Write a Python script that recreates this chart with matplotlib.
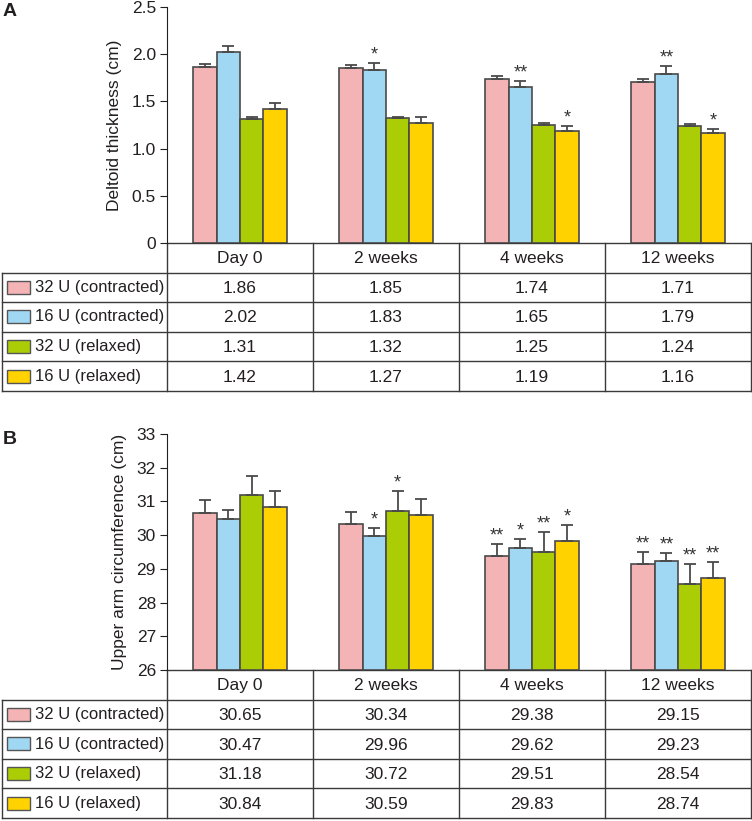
import numpy as np
import matplotlib
matplotlib.use('Agg')
from matplotlib import pyplot as plt
from matplotlib.patches import Rectangle

plt.rcParams['font.family'] = ['Liberation Sans', 'DejaVu Sans']

weeks = ['Day 0', '2 weeks', '4 weeks', '12 weeks']
groups = ['32 U (contracted)', '16 U (contracted)', '32 U (relaxed)', '16 U (relaxed)']
colors = ['#F4B3B5', '#A0D8F4', '#AACD06', '#FFD200']

# 三角肌厚度 (cm)
deltoid = [[1.86, 1.85, 1.74, 1.71],
           [2.02, 1.83, 1.65, 1.79],
           [1.31, 1.32, 1.25, 1.24],
           [1.42, 1.27, 1.19, 1.16]]
deltoid_err = [[0.04, 0.04, 0.03, 0.03],
               [0.07, 0.08, 0.07, 0.08],
               [0.02, 0.02, 0.02, 0.02],
               [0.06, 0.06, 0.05, 0.05]]
deltoid_sig = [['', '', '', ''],
               ['', '*', '**', '**'],
               ['', '', '', ''],
               ['', '', '*', '*']]

# 上臂围 (cm)
arm = [[30.65, 30.34, 29.38, 29.15],
       [30.47, 29.96, 29.62, 29.23],
       [31.18, 30.72, 29.51, 28.54],
       [30.84, 30.59, 29.83, 28.74]]
arm_err = [[0.38, 0.34, 0.35, 0.35],
           [0.27, 0.26, 0.26, 0.25],
           [0.57, 0.58, 0.59, 0.59],
           [0.47, 0.47, 0.46, 0.47]]
arm_sig = [['', '', '**', '**'],
           ['', '*', '*', '**'],
           ['', '*', '**', '**'],
           ['', '', '*', '**']]

W, H = 752, 821
fig = plt.figure(figsize=(W / 100, H / 100), dpi=100)
ov = fig.add_axes([0, 0, 1, 1])
ov.set_xlim(0, W)
ov.set_ylim(H, 0)
ov.axis('off')

x_left, x_mid, x_right = 2, 167, 751
edge = '#4a4a4a'
txt = '#231f20'


def panel(top, bottom, data, err, sig, ylim, yticks, yticklabels, ylabel, letter):
    ax = fig.add_axes([x_mid / W, 1 - bottom / H, (x_right - x_mid) / W, (bottom - top) / H])
    ax.set_zorder(2)
    ax.patch.set_alpha(0)
    x = np.arange(len(weeks))
    bw = 0.16
    span = ylim[1] - ylim[0]
    for i in range(len(groups)):
        xs = x + (i - 1.5) * bw
        vals = np.array(data[i])
        ax.bar(xs, vals - ylim[0], bw, bottom=ylim[0], color=colors[i],
               edgecolor=edge, linewidth=1.2)
        ax.errorbar(xs, vals, yerr=[np.zeros(len(vals)), err[i]], fmt='none',
                    ecolor=edge, elinewidth=1.3, capsize=4, capthick=1.3)
        for j in range(len(weeks)):
            if sig[i][j]:
                ax.text(xs[j], vals[j] + err[i][j] - span * 0.002, sig[i][j],
                        ha='center', va='bottom', fontsize=13, color='#333333')
    ax.set_xlim(-0.5, len(weeks) - 0.5)
    ax.set_ylim(ylim)
    ax.set_yticks(yticks)
    ax.set_yticklabels(yticklabels, fontsize=12.5, color=txt)
    ax.set_xticks([])
    for s in ['top', 'right', 'bottom']:
        ax.spines[s].set_visible(False)
    ax.spines['left'].set_color(txt)
    ax.tick_params(axis='y', length=5, color=txt, pad=3)
    ax.set_ylabel(ylabel, fontsize=12.5, color=txt, labelpad=7)
    fig.text(3 / W, 1 - (top + 5) / H, letter, fontsize=14, fontweight='bold',
             va='center', ha='left', color=txt)

    # table below the axes
    row_h = 29.6
    rows = [bottom + k * row_h for k in range(6)]
    col_w = (x_right - x_mid) / len(weeks)
    cols = [x_mid + k * col_w for k in range(len(weeks) + 1)]
    lc = '#3a3a3a'
    ov.plot([x_mid, x_right], [rows[0], rows[0]], color=lc, lw=1)
    for r in rows[1:]:
        ov.plot([x_left, x_right], [r, r], color=lc, lw=1)
    ov.plot([x_left, x_left], [rows[1], rows[-1]], color=lc, lw=1)
    for c in cols:
        ov.plot([c, c], [rows[0], rows[-1]], color=lc, lw=1)
    for j, w in enumerate(weeks):
        ov.text((cols[j] + cols[j + 1]) / 2, (rows[0] + rows[1]) / 2 + 1, w,
                ha='center', va='center', fontsize=12.5, color=txt)
    for i, g in enumerate(groups):
        yc = (rows[i + 1] + rows[i + 2]) / 2
        ov.add_patch(Rectangle((7, yc - 6.5), 23, 13, facecolor=colors[i],
                               edgecolor='#555555', lw=1))
        ov.text(35, yc, g, ha='left', va='center', fontsize=12, color=txt)
        for j in range(len(weeks)):
            ov.text((cols[j] + cols[j + 1]) / 2, yc + 1, '{:.2f}'.format(data[i][j]),
                    ha='center', va='center', fontsize=12.5, color=txt)
    return ax


panel(7, 243, deltoid, deltoid_err, deltoid_sig, (0, 2.5),
      [0, 0.5, 1.0, 1.5, 2.0, 2.5], ['0', '0.5', '1.0', '1.5', '2.0', '2.5'],
      'Deltoid thickness (cm)', 'A')
panel(434, 670, arm, arm_err, arm_sig, (26, 33),
      list(range(26, 34)), [str(v) for v in range(26, 34)],
      'Upper arm circumference (cm)', 'B')

plt.savefig('out.png', dpi=100)
